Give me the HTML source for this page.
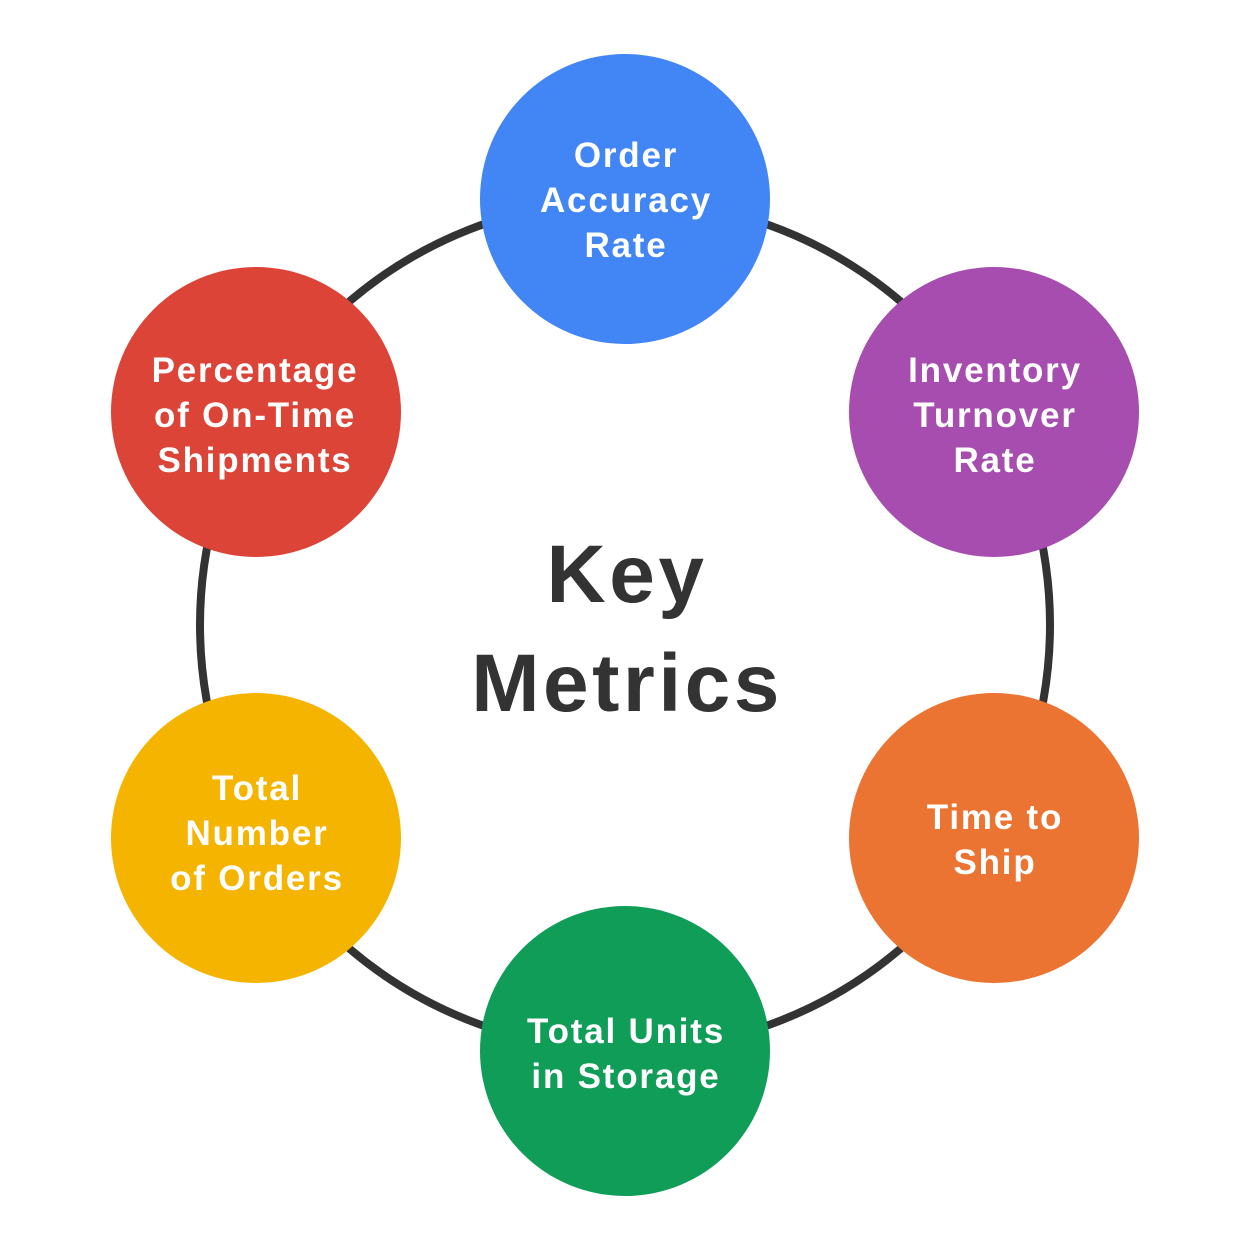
<!DOCTYPE html>
<html><head><meta charset="utf-8"><style>
html,body{margin:0;padding:0;background:#fff;}
svg{display:block}
text{font-family:"Liberation Sans",Arial,sans-serif;font-weight:bold;text-anchor:middle;}
.w{fill:#fff;font-size:35px;letter-spacing:1.8px;}
.k{fill:#333;font-size:82px;letter-spacing:3.5px;}
</style></head><body>
<svg width="1250" height="1251" viewBox="0 0 1250 1251">
<circle cx="625" cy="625" r="425" fill="none" stroke="#333" stroke-width="8"/>
<circle cx="625" cy="199" r="145" fill="#4285F4"/>
<circle cx="994" cy="412" r="145" fill="#A64DAF"/>
<circle cx="994" cy="838" r="145" fill="#EB7432"/>
<circle cx="625" cy="1051" r="145" fill="#109D58"/>
<circle cx="256" cy="838" r="145" fill="#F4B400"/>
<circle cx="256" cy="412" r="145" fill="#DB4437"/>
<g transform="translate(1,0)">
<text class="w" x="625" y="167">Order</text>
<text class="w" x="625" y="212">Accuracy</text>
<text class="w" x="625" y="257">Rate</text>
<text class="w" x="994" y="382">Inventory</text>
<text class="w" x="994" y="427">Turnover</text>
<text class="w" x="994" y="472">Rate</text>
<text class="w" x="994" y="829">Time to</text>
<text class="w" x="994" y="874">Ship</text>
<text class="w" x="625" y="1043">Total Units</text>
<text class="w" x="625" y="1088">in Storage</text>
<text class="w" x="256" y="800">Total</text>
<text class="w" x="256" y="845">Number</text>
<text class="w" x="256" y="890">of Orders</text>
<text class="w" x="254" y="382">Percentage</text>
<text class="w" x="254" y="427">of On-Time</text>
<text class="w" x="254" y="472">Shipments</text>
</g>
<text class="k" x="627" y="602">Key</text>
<text class="k" x="627" y="711">Metrics</text>
</svg>
</body></html>
